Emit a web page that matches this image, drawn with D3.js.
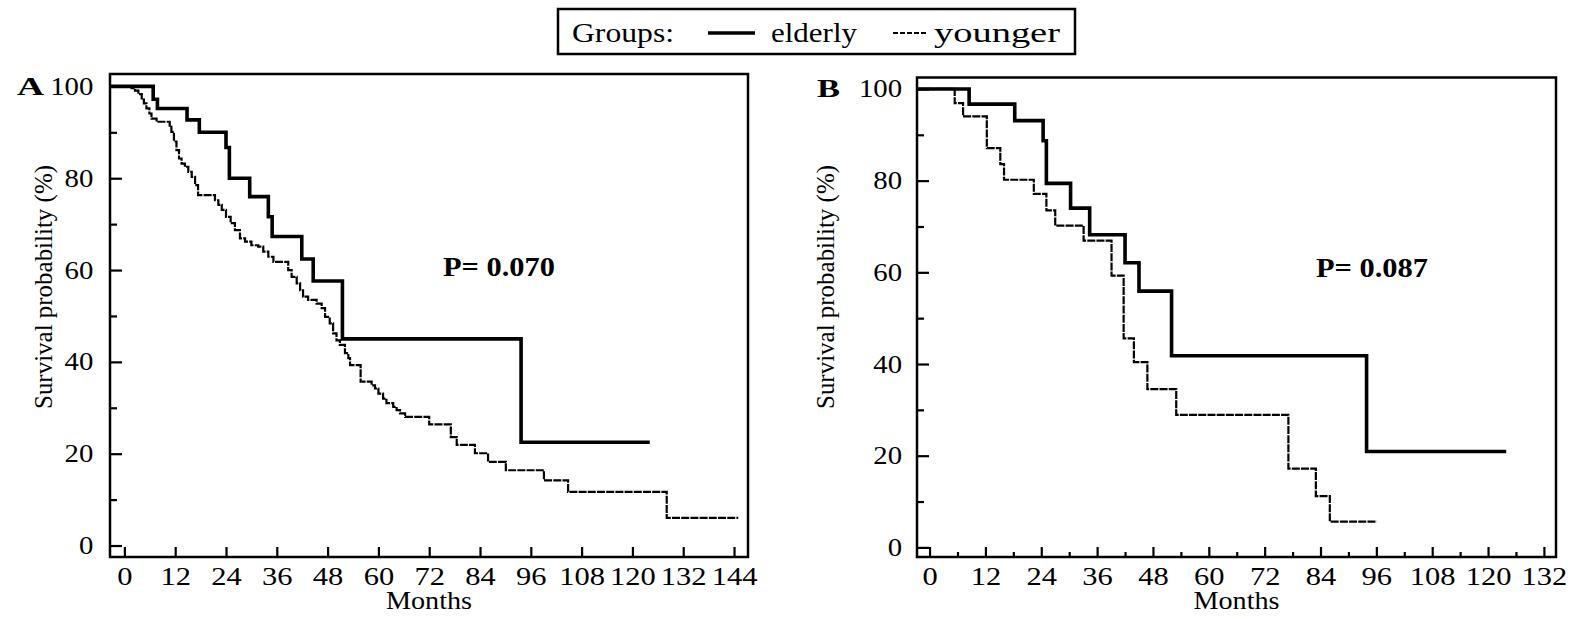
<!DOCTYPE html>
<html>
<head>
<meta charset="utf-8">
<script src="https://cdn.jsdelivr.net/npm/d3@7"></script>
<style>
body{margin:0;background:#fff}
svg{display:block}
</style>
</head>
<body>
<svg id="chart" width="1570" height="619"></svg>
<script>
// Kaplan-Meier steps: [months, survival %], last pair = end of follow-up
const elderlyA = [[0,100],[6.8,97.2],[7.8,95.2],[14.8,92.7],[17.7,90.0],[24,86.7],[24.8,80.0],[29.6,76.0],[34.0,71.6],[34.9,67.3],[41.9,62.4],[44.6,57.6],[51.5,45.0],[93.7,22.5],[124.1,22.5]]
const youngerA = [[0,100],[1.7,99.6],[2.5,99.1],[3.3,98.3],[4.1,97.4],[4.6,96.3],[5.2,95.2],[5.9,94.1],[6.4,93.0],[7.6,92.3],[10.7,91.2],[11.1,90.1],[11.7,88.0],[12.3,86.1],[12.9,84.3],[13.5,83.2],[14.3,82.5],[15.1,81.4],[15.9,80.3],[16.7,78.5],[17.4,76.3],[21.4,75.2],[22.2,74.2],[23.0,73.1],[24.0,71.6],[25.1,70.2],[26.1,68.7],[27.3,66.9],[28.5,66.2],[30.0,65.4],[31.6,65.1],[32.8,64.0],[34.0,62.9],[35.2,61.8],[38.7,60.0],[39.5,58.5],[40.7,57.1],[41.5,55.6],[42.2,54.2],[43.4,53.5],[45.4,52.7],[46.6,51.7],[47.4,49.8],[48.5,48.4],[49.3,46.2],[50.1,44.7],[50.9,43.7],[52.1,41.9],[52.9,40.8],[53.3,39.3],[55.8,35.7],[58.4,34.9],[59.2,34.2],[60.0,33.1],[61.1,32.0],[61.9,31.0],[63.5,30.2],[64.3,29.5],[65.1,28.8],[66.3,28.0],[72.0,26.4],[77.1,23.6],[78.5,21.9],[82.8,20.1],[85.9,18.2],[90.1,16.4],[99.1,14.2],[104.8,11.7],[128.1,6.0],[145.0,6.0]]
const elderlyB = [[0,100],[8.5,96.7],[18.3,93.1],[24.4,88.7],[25.1,79.4],[30.3,74.0],[34.4,68.2],[42.0,62.1],[45.0,55.9],[52.0,41.8],[93.9,20.9],[123.9,20.9]]
const youngerB = [[0,100],[5.4,96.9],[7.2,94.0],[12.3,87.1],[15.2,83.6],[16.0,80.2],[22.4,77.1],[25.1,73.5],[27.0,70.2],[33.1,66.9],[39.1,59.3],[41.7,45.6],[43.9,40.4],[46.8,34.5],[53.0,28.9],[77.1,17.2],[83.0,11.2],[86.0,5.6],[96.1,5.6]]

const xTicksA = [0,12,24,36,48,60,72,84,96,108,120,132,144]
const xTicksB = [0,12,24,36,48,60,72,84,96,108,120,132]
const xMinorB = [6,18,30,42,54,66,78,90,102,114,126]
const yTicks = [0,20,40,60,80,100]
const yMinor = [10,30,50,70,90]
const pValues = ["P= 0.070","P= 0.087"]
const panelLetters = ["A","B"]
const groups = ["elderly","younger"]

const serif = "'Liberation Serif','Times New Roman',serif"
const svg = d3.select("#chart")

// layout of the two panels (pixels) and their axis extents
let panels = [
    {letter:panelLetters[0], p:pValues[0], elderly:elderlyA, younger:youngerA, xt:xTicksA, xm:[],
     left:110, right:748, top:74, bottom:557, xDomain:[-3.4,147.3], yDomain:[-2.5,102.7],
     letterX:17, letterY:95, pX:443, pY:276, yPad:14.5, labelX:43, labelY:287},
    {letter:panelLetters[1], p:pValues[1], elderly:elderlyB, younger:youngerB, xt:xTicksB, xm:xMinorB,
     left:917, right:1556, top:77.5, bottom:557, xDomain:[-2.7,134.6], yDomain:[-2.1,102.5],
     letterX:817, letterY:97, pX:1316, pY:277, yPad:13, labelX:825, labelY:287}
]

function styleAxis(ax, sx){
    ax.attr("font-family", serif).attr("font-size", 25)
    ax.selectAll(".domain").remove()
    ax.selectAll("line").attr("stroke","#000").attr("stroke-width",2.2)
    ax.selectAll("text").attr("fill","#000").attr("transform",`scale(${sx},1)`)
}

function drawPanel(p){
    let x = d3.scaleLinear().domain(p.xDomain).range([p.left, p.right])
    let y = d3.scaleLinear().domain(p.yDomain).range([p.bottom, p.top])
    let g = svg.append("g")

    // y axis: minor + major ticks, pointing inward
    styleAxis(g.append("g").attr("transform",`translate(${p.left},0)`)
        .call(d3.axisLeft(y).tickValues(yMinor).tickSizeInner(-7).tickSizeOuter(0).tickFormat("")), 1.15)
    styleAxis(g.append("g").attr("transform",`translate(${p.left},0)`)
        .call(d3.axisLeft(y).tickValues(yTicks).tickSizeInner(-12).tickSizeOuter(0).tickPadding(p.yPad)), 1.15)

    // x axis
    if (p.xm.length){
        styleAxis(g.append("g").attr("transform",`translate(0,${p.bottom})`)
            .call(d3.axisBottom(x).tickValues(p.xm).tickSizeInner(-5).tickSizeOuter(0).tickFormat("")), 1.2)
    }
    styleAxis(g.append("g").attr("transform",`translate(0,${p.bottom})`)
        .call(d3.axisBottom(x).tickValues(p.xt).tickSizeInner(-10).tickSizeOuter(0).tickPadding(10)), 1.22)

    // frame
    g.append("rect")
        .attr("x",p.left).attr("y",p.top)
        .attr("width",p.right-p.left).attr("height",p.bottom-p.top)
        .attr("fill","none").attr("stroke","#000").attr("stroke-width",2.5)

    let line = d3.line().x(d=>x(d[0])).y(d=>y(d[1])).curve(d3.curveStepAfter)
    // curves start at the left edge of the frame
    let start = s => [[x.domain()[0], s[0][1]]].concat(s)

    g.append("path").datum(start(p.younger))
        .attr("d",line).attr("fill","none").attr("stroke","#000")
        .attr("stroke-width",2.2).attr("stroke-dasharray","8,1.2")
    g.append("path").datum(start(p.elderly))
        .attr("d",line).attr("fill","none").attr("stroke","#000")
        .attr("stroke-width",3.6)

    g.append("text").text(p.letter)
        .attr("x",p.letterX).attr("y",p.letterY)
        .attr("font-family",serif).attr("font-weight","bold").attr("font-size",26)
        .attr("textLength",p.letter==="A"?27:23).attr("lengthAdjust","spacingAndGlyphs")

    g.append("text").text(p.p)
        .attr("x",p.pX).attr("y",p.pY)
        .attr("font-family",serif).attr("font-weight","bold").attr("font-size",27)
        .attr("textLength",112).attr("lengthAdjust","spacingAndGlyphs")

    g.append("text").text("Survival probability (%)")
        .attr("transform",`translate(${p.labelX},${p.labelY}) rotate(-90)`)
        .attr("text-anchor","middle").attr("dy","0.35em")
        .attr("font-family",serif).attr("font-size",26)
        .attr("textLength",244).attr("lengthAdjust","spacingAndGlyphs")

    g.append("text").text("Months")
        .attr("x",(p.left+p.right)/2).attr("y",609)
        .attr("text-anchor","middle")
        .attr("font-family",serif).attr("font-size",25)
        .attr("textLength",86).attr("lengthAdjust","spacingAndGlyphs")
}

panels.forEach(drawPanel)

// legend on top
let lg = svg.append("g")
lg.append("rect").attr("x",558).attr("y",9).attr("width",517).attr("height",45)
    .attr("fill","none").attr("stroke","#000").attr("stroke-width",2.5)
lg.append("text").text("Groups:").attr("x",572).attr("y",42)
    .attr("font-family",serif).attr("font-size",27)
    .attr("textLength",102).attr("lengthAdjust","spacingAndGlyphs")
lg.append("line").attr("x1",708).attr("x2",755).attr("y1",33).attr("y2",33)
    .attr("stroke","#000").attr("stroke-width",3.5)
lg.append("text").text(groups[0]).attr("x",771).attr("y",42)
    .attr("font-family",serif).attr("font-size",27)
    .attr("textLength",86).attr("lengthAdjust","spacingAndGlyphs")
lg.append("line").attr("x1",893).attr("x2",928).attr("y1",33).attr("y2",33)
    .attr("stroke","#000").attr("stroke-width",2).attr("stroke-dasharray","5,2")
lg.append("text").text(groups[1]).attr("x",934).attr("y",42)
    .attr("font-family",serif).attr("font-size",27)
    .attr("textLength",126).attr("lengthAdjust","spacingAndGlyphs")
</script>
</body>
</html>
